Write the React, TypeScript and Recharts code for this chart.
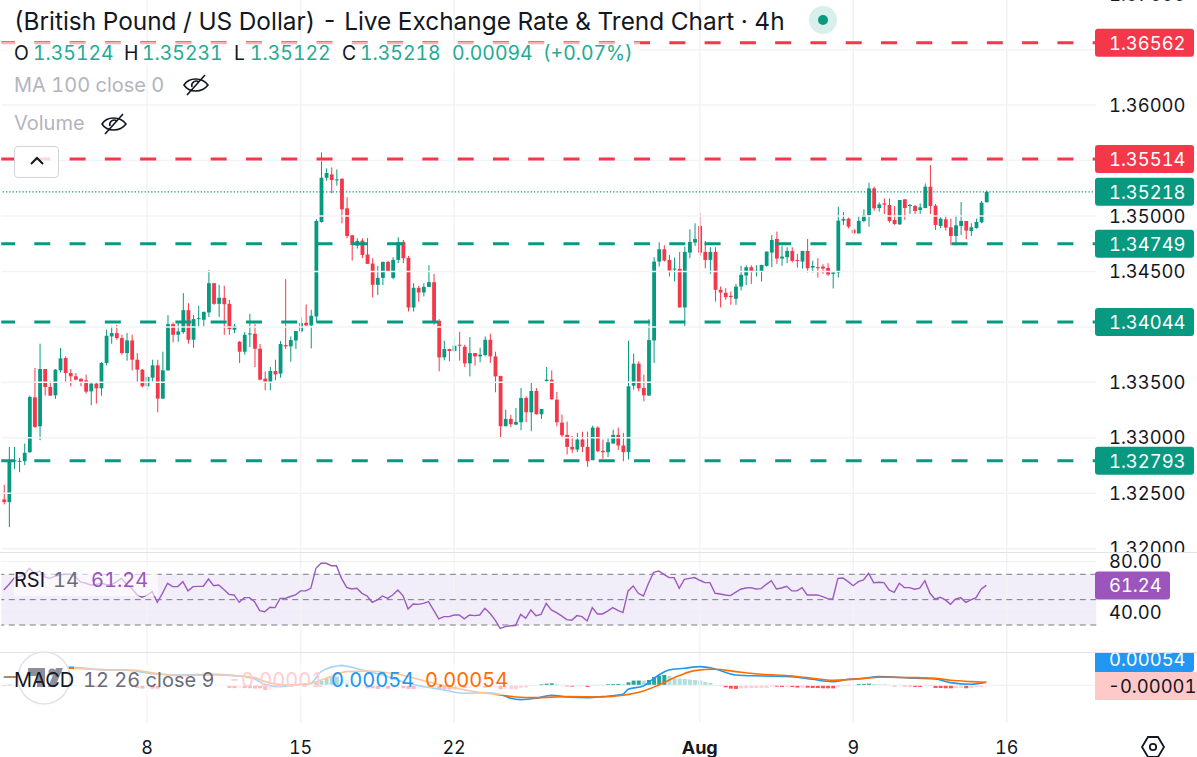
import React from 'react';
import { ComposedChart, Bar, Line, Cell, XAxis, YAxis, ReferenceLine, ReferenceArea } from 'recharts';

// prices are stored x 100000
const opens = [
  132444,132420,132786,132786,132789,132870,133365,133104,133620,133458,
  133383,133608,133719,133584,133554,133533,133518,133419,133488,133446,
  133674,133914,133944,133899,133764,133878,133704,133614,133464,133542,
  133653,133353,133608,134025,133929,133953,134151,133884,134073,134064,
  134130,134394,134208,134262,134208,133974,133866,133776,133932,133938,
  133803,133533,133494,133602,133578,133836,133824,133878,133959,134037,
  134013,134094,134946,135345,135375,135324,135336,135069,134826,134733,
  134778,134652,134571,134379,134442,134586,134442,134604,134766,134622,
  134175,134352,134310,134361,134403,134055,133725,133800,133782,133839,
  133821,133671,133764,133734,133746,133884,133734,133557,133104,133170,
  133119,133140,133359,133230,133422,133212,133512,133524,133344,133137,
  133026,132918,132894,132984,132918,132798,133092,132882,132870,132948,
  133026,132930,132870,133470,133668,133449,133380,133878,134589,134700,
  134604,134520,134523,134175,134670,134760,134910,134676,134604,134676,
  134334,134307,134280,134253,134364,134463,134538,134502,134499,134550,
  134670,134793,134616,134628,134685,134604,134589,134685,134535,134538,
  134544,134532,134478,134490,134958,134976,134877,134844,134955,135006,
  135249,135072,135114,135099,134964,134925,135150,135090,135090,135054,
  135072,135264,135093,134910,134970,134898,134820,134910,134955,134865,
  134892,134943,135124,
];
const highs = [
  132576,132918,132918,132819,132948,133380,133629,133848,133620,133509,
  133620,133809,133734,133620,133584,133533,133569,133494,133503,133683,
  133974,134010,134019,133929,133944,133929,133764,133620,133560,133704,
  133704,133776,134106,134040,134049,134304,134214,134109,134190,134136,
  134514,134394,134379,134370,134244,134028,133872,133953,134118,134028,
  133845,133599,133638,133704,133872,134430,133914,133962,134088,134202,
  134154,134970,135573,135429,135438,135420,135339,135168,134829,134799,
  134799,134802,134619,134550,134589,134595,134628,134808,134784,134640,
  134394,134370,134394,134556,134478,134070,133875,133803,133899,133956,
  133839,133908,133764,133812,133914,133938,133776,133560,133254,133206,
  133269,133449,133374,133494,133449,133260,133638,133608,133413,133209,
  133146,133014,133044,133056,133056,133110,133104,132984,132999,133074,
  133092,133044,133875,133758,133689,133569,134070,134628,134763,134736,
  134649,134625,134676,134724,134880,134934,135024,134775,134718,134718,
  134364,134349,134319,134388,134550,134556,134556,134556,134559,134679,
  134829,134859,134730,134718,134718,134658,134685,134793,134598,134619,
  134565,134574,134496,135084,135036,134985,134895,135000,135060,135300,
  135264,135123,135159,135159,135090,135144,135150,135108,135099,135114,
  135294,135459,135108,134988,135006,134976,135006,135126,134955,134934,
  134976,135135,135231,
];
const lows = [
  132399,132195,132720,132690,132753,132864,133089,132978,133380,133380,
  133350,133590,133494,133464,133518,133464,133398,133293,133308,133380,
  133653,133848,133884,133749,133695,133608,133494,133455,133428,133509,
  133230,133350,133605,133860,133866,133938,133848,133812,134004,134004,
  134088,134199,134088,133929,133929,133944,133674,133749,133818,133638,
  133518,133428,133428,133518,133542,133800,133686,133800,133950,134007,
  133806,134040,134940,135318,135204,135273,134934,134799,134598,134706,
  134619,134568,134265,134286,134376,134496,134430,134574,134574,134139,
  134139,134226,134274,134361,134019,133599,133698,133689,133776,133695,
  133638,133554,133650,133680,133734,133674,133410,132993,133104,133095,
  133113,133068,133140,133059,133209,133170,133494,133344,133104,132999,
  132849,132864,132870,132870,132738,132798,132870,132810,132825,132948,
  132888,132789,132804,133434,133419,133329,133380,133674,134544,134589,
  134454,134409,134175,134004,134619,134730,134640,134529,134478,134229,
  134175,134244,134199,134199,134328,134376,134388,134454,134409,134544,
  134538,134568,134550,134574,134580,134535,134526,134490,134490,134445,
  134478,134460,134346,134445,134919,134889,134829,134838,134943,134904,
  135048,135039,135018,134940,134919,134919,134964,135018,135018,135018,
  135069,135018,134874,134889,134868,134736,134736,134829,134790,134820,
  134886,134934,135122,
];
const closes = [
  132420,132789,132798,132792,132864,133368,133098,133620,133458,133380,
  133614,133716,133584,133554,133524,133500,133416,133488,133446,133674,
  133920,133944,133899,133764,133878,133704,133614,133464,133548,133653,
  133353,133608,134025,133929,133959,134151,133884,134070,134079,134136,
  134394,134208,134262,134205,133980,134010,133776,133929,133941,133803,
  133524,133494,133602,133572,133845,133824,133881,133962,134034,134013,
  134100,134955,135345,135387,135324,135330,135060,134820,134739,134775,
  134649,134568,134379,134442,134586,134499,134604,134766,134619,134175,
  134352,134310,134361,134403,134049,133725,133800,133782,133830,133830,
  133671,133764,133734,133749,133884,133734,133554,133104,133170,133122,
  133143,133359,133230,133422,133212,133260,133524,133347,133140,133023,
  132918,132894,132984,132918,132789,133092,132879,132870,132960,133026,
  132930,132870,133464,133668,133446,133383,133881,134589,134700,134598,
  134508,134526,134175,134676,134766,134793,134670,134604,134676,134334,
  134310,134268,134268,134364,134469,134538,134499,134508,134559,134679,
  134784,134616,134634,134685,134595,134598,134685,134529,134550,134532,
  134526,134472,134490,134958,134973,134904,134844,134955,135009,135249,
  135069,135105,135102,134955,134928,135144,135072,135099,135045,135078,
  135264,135090,134919,134976,134895,134820,134916,134955,134868,134898,
  134946,135120,135218,
];

const rsiValues = [
  57.6,62,66.8,68,69.5,74.7,70.8,72.6,68,66.8,
  68.5,69.5,70,70,68,64,62.9,61.6,62,62.9,
  62,61.6,64,66.8,62,58.9,54,51.9,53.5,56.3,
  47.9,55,62.9,60.3,60.3,64.2,56.9,60.3,60.5,60.6,
  66.3,61,61.6,58,54.2,53.7,47.9,51.6,51.6,48.4,
  41.3,40.5,44,43.7,51,51,52.5,53.7,56.9,56.9,
  58.9,74.7,78.7,78.7,76.8,76.8,66.8,59.7,58.4,59,
  55,52.9,47.9,49.8,52.9,51,53.7,57.6,53.2,42.6,
  46.6,46.3,47.1,48.4,41.8,34.8,36.6,36.6,37.9,37.9,
  34.8,37.9,37.4,37.9,43.2,39.2,34,27.4,28.7,29.4,
  29.5,38.4,35.3,41.9,37.4,38.4,47.1,41.9,39.8,37.2,
  34.2,33.7,37.4,36.6,33.2,43.7,38.7,38.7,41,43.7,
  41.6,39.8,56.9,60.8,55,52.9,62.9,71.6,72.6,70,
  67.4,67.4,59,66,66.8,67.4,65.3,63.4,63.4,55,
  54.5,53.7,53.2,55.8,58.2,59.2,59.5,58.4,58.7,62.1,
  65,58.4,59.2,60.5,56.9,56.9,59.5,53.7,53.7,53.7,
  52.4,50.8,50.5,66.8,67.1,64.2,61,64.2,65.5,70.8,
  63.4,63.7,63.4,57.6,55.8,62.9,59.5,59.5,58.2,59,
  65,55,50.3,51.9,49.8,46.3,50.5,51.6,47.9,49.8,
  51.6,58.2,61.24,
];

// MACD pane values are x 100000 too
const histValues = [
  -12,8,6,6,5,6,6,5,6,6,
  4,6,5,6,6,5,6,4,-30,-33,
  5,6,5,6,5,6,-48,-60,-54,-60,
  -61,-48,6,6,5,6,6,5,6,6,
  5,6,5,6,-50,-51,-50,-52,-54,-56,
  -57,-84,-84,-54,-36,-12,12,18,24,36,
  35,42,78,126,156,156,114,90,42,18,
  -12,-54,-55,-66,-60,-62,-60,-42,-54,-66,
  -67,-66,-60,-58,-57,-70,-76,-77,-78,-46,
  -47,-44,-42,-30,-44,-42,-40,-72,-72,-71,
  -70,-42,-36,-12,-6,18,30,36,18,6,
  -18,-24,-12,-12,-30,6,6,7,18,24,
  25,24,54,84,85,83,96,150,174,186,
  168,126,120,114,102,96,84,60,42,6,
  -12,-36,-60,-66,-54,-53,-48,-47,-46,-45,
  -24,-25,-30,-29,-31,-42,-41,-43,-48,-49,
  -54,-55,-56,-36,6,7,2,24,25,30,
  24,18,17,6,-18,-12,-18,-19,-30,-31,
  -12,-13,-48,-49,-54,-55,-48,-47,-54,-48,
  -36,-30,-1,
];
const macdAt = [0,2,6,13,19,25,30,34,41,45,49,51,54,58,60,62,66,70,74,79,86,90,94,97,99,101,104,107,110,114,117,121,122,125,128,130,133,136,139,143,148,154,158,162,165,168,171,178,182,185,189,192];
const macdValues = [150,150,216,324,282,264,198,186,198,174,114,18,-24,18,36,246,354,276,186,36,-84,-144,-132,-162,-234,-258,-234,-180,-210,-222,-204,-162,-72,-12,186,276,306,336,294,186,168,156,108,66,108,126,156,126,114,48,18,54];
const signalAt = [0,2,6,13,19,25,30,34,41,45,49,51,55,59,63,67,71,77,84,90,97,100,104,110,117,121,125,128,132,135,139,143,148,154,158,162,168,171,178,182,185,189,192];
const signalValues = [144,150,216,306,282,276,210,174,186,174,138,66,6,18,126,246,258,198,36,-84,-174,-210,-222,-204,-210,-180,-102,6,174,264,288,246,198,168,126,90,120,144,138,126,90,66,54];

const priceTicks = [1.37, 1.36, 1.35, 1.345, 1.335, 1.33, 1.325, 1.32];
const priceGrid = [1.365, 1.36, 1.355, 1.35, 1.345, 1.34, 1.335, 1.33, 1.325, 1.32];
const redLevels = [1.36562, 1.35514];
const greenLevels = [1.34749, 1.34044, 1.32793];
const lastPrice = 1.35218;
const lastRsi = 61.24;
const rsiTicks = [80, 40];
const rsiDashed = [70, 50, 30];
const dateAt = [28, 58, 88, 136, 166, 196];
const dateLabels = ['8', '15', '22', 'Aug', '9', '16'];

const UP = '#089981';
const DOWN = '#f5374a';
const TEXT = '#131722';
const GRID = '#f2f3f5';
const SLOTS = 214; // visible bar slots incl. empty right side
const AXIS_FONT = 18.4;

const rows = Array.from({ length: SLOTS }, (_, i) => {
  const row: any = { idx: i };
  if (i < opens.length) {
    row.open = opens[i] / 1e5;
    row.high = highs[i] / 1e5;
    row.low = lows[i] / 1e5;
    row.close = closes[i] / 1e5;
    row.range = [row.low, row.high];
    row.rsi = rsiValues[i];
    row.hist = histValues[i];
  }
  const m = macdAt.indexOf(i);
  if (m >= 0) row.macd = macdValues[m];
  const s = signalAt.indexOf(i);
  if (s >= 0) row.signal = signalValues[s];
  return row;
});

const histColor = (i: number) => {
  const v = histValues[i];
  const prev = i > 0 ? histValues[i - 1] : 0;
  if (v >= 0) return v >= prev ? '#26a69a' : '#b2dfdb';
  return v < prev ? '#ff5252' : '#ffcdd2';
};

const Candle = (props: any) => {
  const { x, y, width, height, payload } = props;
  if (!payload || payload.open === undefined) return null;
  const { open, high, low, close } = payload;
  const perPrice = height / (high - low);
  const top = y + (high - Math.max(open, close)) * perPrice;
  const bodyH = Math.max(Math.abs(open - close) * perPrice, 1);
  const color = close >= open ? UP : DOWN;
  const cx = x + width / 2;
  return (
    <g>
      <line x1={cx} x2={cx} y1={y} y2={y + height} stroke={color} strokeWidth={1} />
      <rect x={cx - 1.9} y={top} width={3.8} height={bodyH} fill={color} />
    </g>
  );
};

const priceTag = (value: number, color: string, w = 99, digits = 5) => (props: any) => {
  const vb = props.viewBox;
  if (!vb) return null;
  const cy = vb.y;
  return (
    <g>
      <rect x={1095} y={cy - 14} width={w} height={28} rx={3} fill={color} />
      <text x={1109} y={cy} dominantBaseline="central" fill="#fff" fontSize={AXIS_FONT}>{value.toFixed(digits)}</text>
    </g>
  );
};

const DateTick = (props: any) => {
  const { x, payload } = props;
  const label = dateLabels[dateAt.indexOf(payload.value)];
  return (
    <text x={x} y={94} dominantBaseline="central" textAnchor="middle" fill={TEXT} fontSize={18}
      fontWeight={label === 'Aug' ? 700 : 400}>{label}</text>
  );
};

const EyeOff = ({ left, top }: { left: number; top: number }) => (
  <svg style={{ position: 'absolute', left, top }} width="28" height="24" viewBox="0 0 28 24" fill="none" stroke={TEXT} strokeWidth="1.6">
    <path d="M2 12 C7 4 20 4 26 12 C20 20 7 20 2 12 Z" />
    <path d="M10 14 a4.5 4.5 0 0 1 7-5" />
    <path d="M5 22 L23 2" />
  </svg>
);

const Txt = ({ left, top, size = 20, color = TEXT, children, weight }: any) => (
  <span style={{ position: 'absolute', left, top, fontSize: size, color, lineHeight: '26px', whiteSpace: 'nowrap', fontWeight: weight }}>{children}</span>
);

const chartProps = { data: rows, barCategoryGap: 0 };
const verticals = dateAt.map((d) => <ReferenceLine key={d} x={d} stroke={GRID} strokeWidth={1.5} />);
const levelDash = { strokeWidth: 3, strokeDasharray: '16 19.28', strokeDashoffset: 12.4 };

export default function App() {
  const GREEN_TXT = '#22ab94';
  const ROW2 = 19.4;
  return (
    <div style={{ position: 'absolute', left: 0, top: 0, width: 1197, height: 757, overflow: 'hidden', background: '#fff', fontFamily: 'Inter, "Noto Sans", sans-serif', fontVariantNumeric: 'tabular-nums' }}>
      {/* price pane */}
      <div style={{ position: 'absolute', left: 0, top: -20, width: 1197, height: 573, overflow: 'hidden' }}>
        <ComposedChart width={1197} height={573} margin={{ top: 0, right: 0, bottom: 0, left: 1.24 }} {...chartProps}>
          <XAxis dataKey="idx" type="category" scale="band" hide />
          <YAxis yAxisId="p" orientation="right" width={100.72} domain={[1.31961, 1.37128]} allowDataOverflow ticks={priceTicks} interval={0}
            tickFormatter={(v: number) => v.toFixed(5)} axisLine={false} tickLine={false} tickMargin={6.7}
            tick={{ fill: TEXT, fontSize: AXIS_FONT, textAnchor: 'start' }} />
          {verticals.map((v) => React.cloneElement(v, { yAxisId: 'p' } as any))}
          {priceGrid.map((p) => <ReferenceLine key={p} yAxisId="p" y={p} stroke={GRID} strokeWidth={1.5} />)}
          <Bar yAxisId="p" dataKey="range" barSize={4} shape={<Candle />} isAnimationActive={false} />
          <ReferenceLine yAxisId="p" y={lastPrice} stroke={UP} strokeWidth={1.3} strokeDasharray="1.3 2" label={priceTag(lastPrice, UP)} />
          {redLevels.map((p) => (
            <ReferenceLine key={p} yAxisId="p" y={p} stroke={DOWN} {...levelDash} label={priceTag(p, DOWN)} />
          ))}
          {greenLevels.map((p) => (
            <ReferenceLine key={p} yAxisId="p" y={p} stroke={UP} {...levelDash} label={priceTag(p, UP)} />
          ))}
        </ComposedChart>
      </div>
      <div style={{ position: 'absolute', left: 0, top: 552, width: 1197, height: 1, background: '#e0e3eb' }} />

      {/* rsi pane */}
      <div style={{ position: 'absolute', left: 0, top: 553, width: 1197, height: 99, overflow: 'hidden' }}>
        <ComposedChart width={1197} height={99} margin={{ top: 0, right: 0, bottom: 0, left: 1.24 }} {...chartProps}>
          <XAxis dataKey="idx" type="category" scale="band" hide />
          <YAxis yAxisId="r" orientation="right" width={100.72} domain={[8.7, 86.8]} allowDataOverflow ticks={rsiTicks} interval={0}
            tickFormatter={(v: number) => v.toFixed(2)} axisLine={false} tickLine={false} tickMargin={6.7}
            tick={{ fill: TEXT, fontSize: AXIS_FONT, textAnchor: 'start' }} />
          {verticals.map((v) => React.cloneElement(v, { yAxisId: 'r' } as any))}
          <ReferenceArea yAxisId="r" y1={30} y2={70} fill="#7e57c2" fillOpacity={0.1} stroke="none" />
          {rsiTicks.map((v) => <ReferenceLine key={v} yAxisId="r" y={v} stroke="#eceef2" strokeWidth={1} />)}
          {rsiDashed.map((v) => <ReferenceLine key={v} yAxisId="r" y={v} stroke="#787b86" strokeWidth={1} strokeDasharray="6 4.5" />)}
          <Line yAxisId="r" dataKey="rsi" stroke="#9c59c0" strokeWidth={1.4} dot={false} isAnimationActive={false} />
          <ReferenceLine yAxisId="r" y={lastRsi} strokeOpacity={0} label={priceTag(lastRsi, '#9c55bd', 75, 2)} />
        </ComposedChart>
      </div>
      <div style={{ position: 'absolute', left: 0, top: 652, width: 1197, height: 1, background: '#e0e3eb' }} />

      {/* macd pane + time axis */}
      <div style={{ position: 'absolute', left: 0, top: 653, width: 1197, height: 104, overflow: 'hidden' }}>
        <ComposedChart width={1197} height={104} margin={{ top: 0, right: 0, bottom: 0, left: 1.24 }} {...chartProps}>
          <XAxis dataKey="idx" type="category" scale="band" height={34} ticks={dateAt} interval={0} axisLine={false} tickLine={false} tick={<DateTick />} />
          <YAxis yAxisId="m" orientation="right" width={100.72} domain={[-679, 581]} allowDataOverflow tick={false} axisLine={false} tickLine={false} />
          {verticals.map((v) => React.cloneElement(v, { yAxisId: 'm' } as any))}
          <ReferenceLine yAxisId="m" y={0} stroke="#eceef2" strokeWidth={1} />
          <Bar yAxisId="m" dataKey="hist" barSize={4} isAnimationActive={false}>
            {rows.map((r) => <Cell key={r.idx} fill={r.idx < histValues.length ? histColor(r.idx) : 'none'} />)}
          </Bar>
          <Line yAxisId="m" dataKey="macd" type="monotone" stroke="#2196f3" strokeWidth={1.6} dot={false} connectNulls isAnimationActive={false} />
          <Line yAxisId="m" dataKey="signal" type="monotone" stroke="#ff6d00" strokeWidth={1.6} dot={false} connectNulls isAnimationActive={false} />
        </ComposedChart>
      </div>

      {/* header legend */}
      <Txt left={14} top={8} size={24.4}>(British Pound / US Dollar) - Live Exchange Rate &amp; Trend Chart · 4h</Txt>
      <div style={{ position: 'absolute', left: 809, top: 6, width: 28, height: 28, borderRadius: 14, background: '#d9efeb' }} />
      <div style={{ position: 'absolute', left: 818, top: 15, width: 10, height: 10, borderRadius: 5, background: UP }} />
      <div style={{ position: 'absolute', left: 0, top: 42, width: 640, height: 24, background: 'rgba(255,255,255,0.6)' }} />
      <Txt left={14} top={40} size={ROW2}>O</Txt><Txt left={33} top={40} size={ROW2} color={GREEN_TXT}>1.35124</Txt>
      <Txt left={124} top={40} size={ROW2}>H</Txt><Txt left={142} top={40} size={ROW2} color={GREEN_TXT}>1.35231</Txt>
      <Txt left={234} top={40} size={ROW2}>L</Txt><Txt left={250} top={40} size={ROW2} color={GREEN_TXT}>1.35122</Txt>
      <Txt left={342} top={40} size={ROW2}>C</Txt><Txt left={360} top={40} size={ROW2} color={GREEN_TXT}>1.35218</Txt>
      <Txt left={452} top={40} size={ROW2} color={GREEN_TXT}>0.00094</Txt><Txt left={543} top={40} size={ROW2} color={GREEN_TXT}>(+0.07%)</Txt>
      <Txt left={14} top={72} color="#b2b5be">MA 100 close 0</Txt>
      <EyeOff left={182} top={73} />
      <Txt left={14} top={110} color="#b2b5be">Volume</Txt>
      <EyeOff left={100} top={112} />
      <div style={{ position: 'absolute', left: 14, top: 146, width: 43, height: 30, border: '1px solid #d1d4dc', borderRadius: 4, background: 'rgba(255,255,255,0.8)' }} />
      <svg style={{ position: 'absolute', left: 29, top: 155 }} width="16" height="12" fill="none" stroke={TEXT} strokeWidth="2"><path d="M2 9 L8 3 L14 9" /></svg>

      {/* rsi legend */}
      <div style={{ position: 'absolute', left: 14, top: 566, width: 144, height: 30, background: 'rgba(255,255,255,0.6)' }} />
      <Txt left={14} top={567} color={TEXT}>RSI</Txt><Txt left={53} top={567} color="#6a6d78">14</Txt><Txt left={91} top={567} color="#9c55bd">61.24</Txt>

      {/* macd legend, tv logo behind it */}
      <svg style={{ position: 'absolute', left: 16, top: 650 }} width="58" height="58">
        <circle cx="28" cy="28" r="26" fill="#fff" stroke="#e0e3eb" strokeWidth="1.5" />
        <path d="M12 18 H29 V37 H21 V26 H12 Z" fill="#8c8f99" />
        <circle cx="36" cy="22" r="3.5" fill="#8c8f99" />
        <path d="M40 18 H47 L39 37 H32 Z" fill="#8c8f99" />
      </svg>
      <div style={{ position: 'absolute', left: 74, top: 665, width: 436, height: 30, background: 'rgba(255,255,255,0.6)' }} />
      <Txt left={14} top={667}>MACD</Txt><Txt left={83} top={667} color="#6a6d78">12 26 close 9</Txt>
      <Txt left={228} top={667} color="#ffcdd2">-0.00001</Txt><Txt left={331} top={667} color="#2196f3">0.00054</Txt><Txt left={425} top={667} color="#ff6d00">0.00054</Txt>

      {/* macd tags are stacked, not at their own value */}
      <div style={{ position: 'absolute', left: 1095, top: 653, width: 99, height: 19, background: '#2196f3', borderBottomRightRadius: 3, overflow: 'hidden' }}>
        <span style={{ position: 'absolute', left: 14, top: -8, fontSize: AXIS_FONT, lineHeight: '28px', color: '#fff' }}>0.00054</span>
      </div>
      <div style={{ position: 'absolute', left: 1095, top: 672, width: 102, height: 28, background: '#ffc9c9' }}>
        <span style={{ position: 'absolute', left: 13, top: 0, fontSize: AXIS_FONT, lineHeight: '28px', color: TEXT }}>-0.00001</span>
      </div>
      <svg style={{ position: 'absolute', left: 1140, top: 734 }} width="26" height="26" fill="none" stroke={TEXT} strokeWidth="1.8">
        <path d="M8 3 H18 L24 13 L18 23 H8 L2 13 Z" /><circle cx="13" cy="13" r="3.2" />
      </svg>
    </div>
  );
}
